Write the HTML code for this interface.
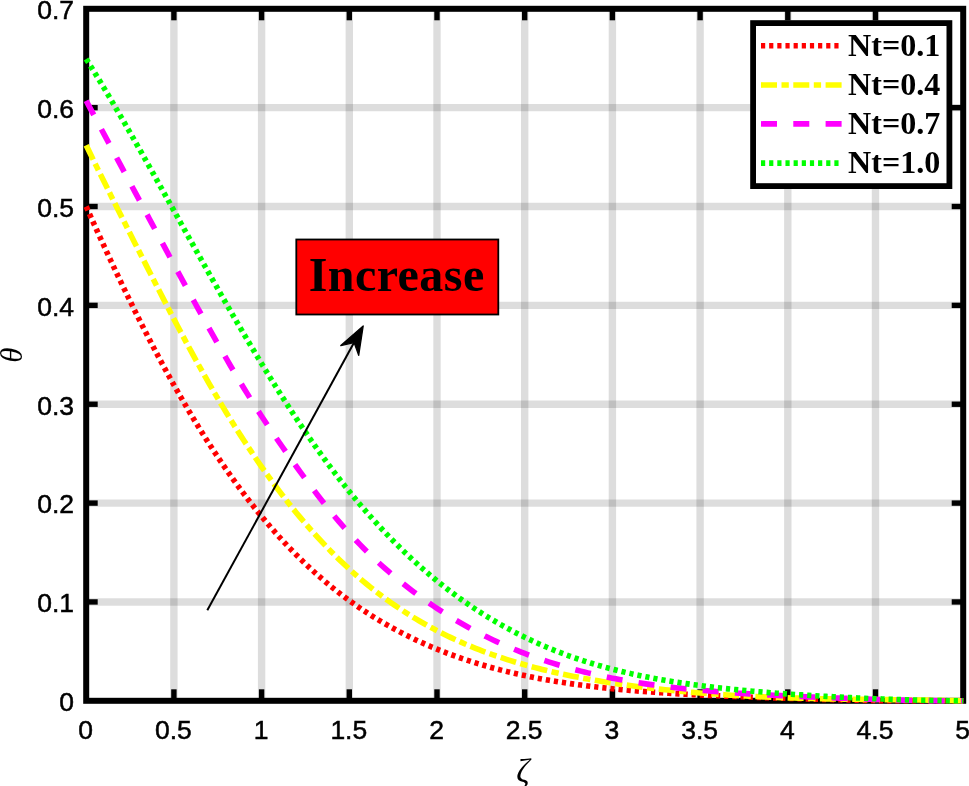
<!DOCTYPE html>
<html><head><meta charset="utf-8"><title>Nt plot</title>
<style>html,body{margin:0;padding:0;background:#fff;overflow:hidden}svg{display:block}
.tk{font-family:"Liberation Sans",sans-serif;font-size:26.5px;fill:#000;stroke:#000;stroke-width:0.5px}
.lg{font-family:"Liberation Serif",serif;font-weight:bold;font-size:32.1px;fill:#000}
.ax{font-family:"Liberation Serif",serif;font-style:italic;font-size:31px;fill:#000}
</style></head><body>
<svg width="969" height="786" viewBox="0 0 969 786">
<rect width="969" height="786" fill="#fff"/>
<g stroke="#000" stroke-opacity="0.135" stroke-width="7.4">
<line x1="173.90" y1="8.80" x2="173.90" y2="700.80"/>
<line x1="261.60" y1="8.80" x2="261.60" y2="700.80"/>
<line x1="349.30" y1="8.80" x2="349.30" y2="700.80"/>
<line x1="437.00" y1="8.80" x2="437.00" y2="700.80"/>
<line x1="524.70" y1="8.80" x2="524.70" y2="700.80"/>
<line x1="612.40" y1="8.80" x2="612.40" y2="700.80"/>
<line x1="700.10" y1="8.80" x2="700.10" y2="700.80"/>
<line x1="787.80" y1="8.80" x2="787.80" y2="700.80"/>
<line x1="875.50" y1="8.80" x2="875.50" y2="700.80"/>
<line x1="86.20" y1="601.94" x2="963.20" y2="601.94"/>
<line x1="86.20" y1="503.09" x2="963.20" y2="503.09"/>
<line x1="86.20" y1="404.23" x2="963.20" y2="404.23"/>
<line x1="86.20" y1="305.37" x2="963.20" y2="305.37"/>
<line x1="86.20" y1="206.51" x2="963.20" y2="206.51"/>
<line x1="86.20" y1="107.66" x2="963.20" y2="107.66"/>
</g>
<g stroke="#000" stroke-width="5.4">
<line x1="173.90" y1="700.80" x2="173.90" y2="689.30"/>
<line x1="173.90" y1="8.80" x2="173.90" y2="20.30"/>
<line x1="261.60" y1="700.80" x2="261.60" y2="689.30"/>
<line x1="261.60" y1="8.80" x2="261.60" y2="20.30"/>
<line x1="349.30" y1="700.80" x2="349.30" y2="689.30"/>
<line x1="349.30" y1="8.80" x2="349.30" y2="20.30"/>
<line x1="437.00" y1="700.80" x2="437.00" y2="689.30"/>
<line x1="437.00" y1="8.80" x2="437.00" y2="20.30"/>
<line x1="524.70" y1="700.80" x2="524.70" y2="689.30"/>
<line x1="524.70" y1="8.80" x2="524.70" y2="20.30"/>
<line x1="612.40" y1="700.80" x2="612.40" y2="689.30"/>
<line x1="612.40" y1="8.80" x2="612.40" y2="20.30"/>
<line x1="700.10" y1="700.80" x2="700.10" y2="689.30"/>
<line x1="700.10" y1="8.80" x2="700.10" y2="20.30"/>
<line x1="787.80" y1="700.80" x2="787.80" y2="689.30"/>
<line x1="787.80" y1="8.80" x2="787.80" y2="20.30"/>
<line x1="875.50" y1="700.80" x2="875.50" y2="689.30"/>
<line x1="875.50" y1="8.80" x2="875.50" y2="20.30"/>
<line x1="86.20" y1="601.94" x2="97.70" y2="601.94"/>
<line x1="963.20" y1="601.94" x2="951.70" y2="601.94"/>
<line x1="86.20" y1="503.09" x2="97.70" y2="503.09"/>
<line x1="963.20" y1="503.09" x2="951.70" y2="503.09"/>
<line x1="86.20" y1="404.23" x2="97.70" y2="404.23"/>
<line x1="963.20" y1="404.23" x2="951.70" y2="404.23"/>
<line x1="86.20" y1="305.37" x2="97.70" y2="305.37"/>
<line x1="963.20" y1="305.37" x2="951.70" y2="305.37"/>
<line x1="86.20" y1="206.51" x2="97.70" y2="206.51"/>
<line x1="963.20" y1="206.51" x2="951.70" y2="206.51"/>
<line x1="86.20" y1="107.66" x2="97.70" y2="107.66"/>
<line x1="963.20" y1="107.66" x2="951.70" y2="107.66"/>
</g>
<rect x="86.20" y="8.80" width="877.00" height="692.00" fill="none" stroke="#000" stroke-width="6.0"/>
<path d="M86.20,206.51 L89.71,214.40 L93.22,222.24 L96.72,230.02 L100.23,237.75 L103.74,245.42 L107.25,253.03 L110.76,260.58 L114.26,268.07 L117.77,275.50 L121.28,282.86 L124.79,290.16 L128.30,297.40 L131.80,304.56 L135.31,311.66 L138.82,318.69 L142.33,325.65 L145.84,332.54 L149.34,339.36 L152.85,346.10 L156.36,352.77 L159.87,359.37 L163.38,365.89 L166.88,372.33 L170.39,378.70 L173.90,384.99 L177.41,391.21 L180.92,397.34 L184.42,403.40 L187.93,409.38 L191.44,415.28 L194.95,421.10 L198.46,426.84 L201.96,432.50 L205.47,438.08 L208.98,443.58 L212.49,449.00 L216.00,454.33 L219.50,459.59 L223.01,464.77 L226.52,469.86 L230.03,474.88 L233.54,479.81 L237.04,484.67 L240.55,489.44 L244.06,494.14 L247.57,498.75 L251.08,503.29 L254.58,507.75 L258.09,512.13 L261.60,516.43 L265.11,520.65 L268.62,524.80 L272.12,528.87 L275.63,532.87 L279.14,536.79 L282.65,540.63 L286.16,544.40 L289.66,548.10 L293.17,551.73 L296.68,555.28 L300.19,558.77 L303.70,562.18 L307.20,565.53 L310.71,568.80 L314.22,572.01 L317.73,575.15 L321.24,578.22 L324.74,581.23 L328.25,584.18 L331.76,587.06 L335.27,589.88 L338.78,592.64 L342.28,595.33 L345.79,597.97 L349.30,600.55 L352.81,603.08 L356.32,605.54 L359.82,607.96 L363.33,610.32 L366.84,612.62 L370.35,614.88 L373.86,617.08 L377.36,619.24 L380.87,621.35 L384.38,623.41 L387.89,625.42 L391.40,627.39 L394.90,629.31 L398.41,631.19 L401.92,633.02 L405.43,634.81 L408.94,636.56 L412.44,638.28 L415.95,639.95 L419.46,641.58 L422.97,643.17 L426.48,644.73 L429.98,646.25 L433.49,647.73 L437.00,649.18 L440.51,650.59 L444.02,651.97 L447.52,653.31 L451.03,654.63 L454.54,655.90 L458.05,657.15 L461.56,658.37 L465.06,659.55 L468.57,660.71 L472.08,661.84 L475.59,662.93 L479.10,664.00 L482.60,665.04 L486.11,666.06 L489.62,667.05 L493.13,668.01 L496.64,668.94 L500.14,669.86 L503.65,670.74 L507.16,671.61 L510.67,672.45 L514.18,673.26 L517.68,674.06 L521.19,674.83 L524.70,675.58 L528.21,676.31 L531.72,677.02 L535.22,677.71 L538.73,678.38 L542.24,679.03 L545.75,679.66 L549.26,680.28 L552.76,680.88 L556.27,681.45 L559.78,682.02 L563.29,682.56 L566.80,683.09 L570.30,683.61 L573.81,684.11 L577.32,684.59 L580.83,685.07 L584.34,685.52 L587.84,685.97 L591.35,686.40 L594.86,686.81 L598.37,687.22 L601.88,687.61 L605.38,687.99 L608.89,688.36 L612.40,688.72 L615.91,689.07 L619.42,689.41 L622.92,689.73 L626.43,690.05 L629.94,690.36 L633.45,690.66 L636.96,690.95 L640.46,691.23 L643.97,691.51 L647.48,691.77 L650.99,692.03 L654.50,692.28 L658.00,692.53 L661.51,692.76 L665.02,692.99 L668.53,693.22 L672.04,693.43 L675.54,693.65 L679.05,693.85 L682.56,694.05 L686.07,694.25 L689.58,694.44 L693.08,694.62 L696.59,694.80 L700.10,694.98 L703.61,695.15 L707.12,695.32 L710.62,695.48 L714.13,695.64 L717.64,695.80 L721.15,695.95 L724.66,696.10 L728.16,696.25 L731.67,696.39 L735.18,696.54 L738.69,696.67 L742.20,696.81 L745.70,696.94 L749.21,697.07 L752.72,697.20 L756.23,697.33 L759.74,697.45 L763.24,697.57 L766.75,697.69 L770.26,697.81 L773.77,697.92 L777.28,698.04 L780.78,698.15 L784.29,698.26 L787.80,698.37 L791.31,698.48 L794.82,698.58 L798.32,698.69 L801.83,698.79 L805.34,698.89 L808.85,698.99 L812.36,699.09 L815.86,699.19 L819.37,699.28 L822.88,699.37 L826.39,699.47 L829.90,699.56 L833.40,699.64 L836.91,699.73 L840.42,699.81 L843.93,699.90 L847.44,699.98 L850.94,700.06 L854.45,700.13 L857.96,700.21 L861.47,700.28 L864.98,700.35 L868.48,700.42 L871.99,700.48 L875.50,700.55 L879.01,700.61 L882.52,700.66 L886.02,700.72 L889.53,700.77 L893.04,700.80 L896.55,700.80 L900.06,700.80 L903.56,700.80 L907.07,700.80 L910.58,700.80 L914.09,700.80 L917.60,700.80 L921.10,700.80 L924.61,700.80 L928.12,700.80 L931.63,700.80 L935.14,700.80 L938.64,700.80 L942.15,700.80 L945.66,700.80 L949.17,700.80 L952.68,700.80 L956.18,700.80 L959.69,700.80 L963.20,700.80" fill="none" stroke="#ff0000" stroke-width="5.6" stroke-dasharray="4.2 3.95"/>
<path d="M86.20,145.22 L89.71,152.49 L93.22,159.69 L96.72,166.86 L100.23,173.98 L103.74,181.06 L107.25,188.12 L110.76,195.15 L114.26,202.16 L117.77,209.15 L121.28,216.12 L124.79,223.08 L128.30,230.03 L131.80,236.97 L135.31,243.90 L138.82,250.81 L142.33,257.72 L145.84,264.61 L149.34,271.50 L152.85,278.36 L156.36,285.21 L159.87,292.04 L163.38,298.85 L166.88,305.63 L170.39,312.37 L173.90,319.08 L177.41,325.75 L180.92,332.37 L184.42,338.94 L187.93,345.46 L191.44,351.93 L194.95,358.33 L198.46,364.67 L201.96,370.95 L205.47,377.16 L208.98,383.31 L212.49,389.38 L216.00,395.38 L219.50,401.32 L223.01,407.18 L226.52,412.96 L230.03,418.68 L233.54,424.32 L237.04,429.89 L240.55,435.38 L244.06,440.80 L247.57,446.15 L251.08,451.42 L254.58,456.61 L258.09,461.74 L261.60,466.78 L265.11,471.75 L268.62,476.65 L272.12,481.47 L275.63,486.22 L279.14,490.90 L282.65,495.49 L286.16,500.02 L289.66,504.47 L293.17,508.84 L296.68,513.15 L300.19,517.37 L303.70,521.53 L307.20,525.61 L310.71,529.62 L314.22,533.56 L317.73,537.42 L321.24,541.22 L324.74,544.94 L328.25,548.59 L331.76,552.17 L335.27,555.68 L338.78,559.13 L342.28,562.50 L345.79,565.81 L349.30,569.05 L352.81,572.22 L356.32,575.33 L359.82,578.37 L363.33,581.35 L366.84,584.26 L370.35,587.12 L373.86,589.91 L377.36,592.64 L380.87,595.31 L384.38,597.92 L387.89,600.47 L391.40,602.97 L394.90,605.41 L398.41,607.79 L401.92,610.12 L405.43,612.40 L408.94,614.63 L412.44,616.80 L415.95,618.93 L419.46,621.00 L422.97,623.03 L426.48,625.01 L429.98,626.95 L433.49,628.84 L437.00,630.68 L440.51,632.48 L444.02,634.24 L447.52,635.96 L451.03,637.64 L454.54,639.27 L458.05,640.87 L461.56,642.43 L465.06,643.95 L468.57,645.43 L472.08,646.88 L475.59,648.29 L479.10,649.67 L482.60,651.02 L486.11,652.33 L489.62,653.61 L493.13,654.86 L496.64,656.08 L500.14,657.26 L503.65,658.42 L507.16,659.55 L510.67,660.66 L514.18,661.73 L517.68,662.78 L521.19,663.80 L524.70,664.80 L528.21,665.77 L531.72,666.72 L535.22,667.64 L538.73,668.54 L542.24,669.42 L545.75,670.28 L549.26,671.11 L552.76,671.93 L556.27,672.72 L559.78,673.50 L563.29,674.25 L566.80,674.99 L570.30,675.71 L573.81,676.41 L577.32,677.09 L580.83,677.76 L584.34,678.41 L587.84,679.05 L591.35,679.67 L594.86,680.27 L598.37,680.86 L601.88,681.44 L605.38,682.00 L608.89,682.55 L612.40,683.08 L615.91,683.60 L619.42,684.11 L622.92,684.61 L626.43,685.09 L629.94,685.57 L633.45,686.03 L636.96,686.48 L640.46,686.92 L643.97,687.35 L647.48,687.77 L650.99,688.18 L654.50,688.58 L658.00,688.97 L661.51,689.35 L665.02,689.72 L668.53,690.09 L672.04,690.44 L675.54,690.78 L679.05,691.12 L682.56,691.45 L686.07,691.77 L689.58,692.08 L693.08,692.38 L696.59,692.68 L700.10,692.97 L703.61,693.25 L707.12,693.52 L710.62,693.78 L714.13,694.04 L717.64,694.29 L721.15,694.53 L724.66,694.77 L728.16,694.99 L731.67,695.21 L735.18,695.43 L738.69,695.63 L742.20,695.83 L745.70,696.02 L749.21,696.21 L752.72,696.39 L756.23,696.56 L759.74,696.72 L763.24,696.88 L766.75,697.04 L770.26,697.18 L773.77,697.33 L777.28,697.46 L780.78,697.59 L784.29,697.72 L787.80,697.83 L791.31,697.95 L794.82,698.06 L798.32,698.16 L801.83,698.26 L805.34,698.35 L808.85,698.44 L812.36,698.53 L815.86,698.61 L819.37,698.69 L822.88,698.76 L826.39,698.83 L829.90,698.89 L833.40,698.96 L836.91,699.02 L840.42,699.07 L843.93,699.13 L847.44,699.18 L850.94,699.23 L854.45,699.27 L857.96,699.32 L861.47,699.36 L864.98,699.40 L868.48,699.44 L871.99,699.48 L875.50,699.51 L879.01,699.55 L882.52,699.59 L886.02,699.62 L889.53,699.66 L893.04,699.69 L896.55,699.73 L900.06,699.76 L903.56,699.80 L907.07,699.84 L910.58,699.88 L914.09,699.92 L917.60,699.96 L921.10,700.01 L924.61,700.05 L928.12,700.10 L931.63,700.16 L935.14,700.21 L938.64,700.27 L942.15,700.33 L945.66,700.40 L949.17,700.47 L952.68,700.55 L956.18,700.63 L959.69,700.71 L963.20,700.80" fill="none" stroke="#ffff00" stroke-width="5.6" stroke-dasharray="16 4.5 7.3 4.5"/>
<path d="M86.20,100.74 L89.71,107.31 L93.22,113.88 L96.72,120.45 L100.23,127.01 L103.74,133.58 L107.25,140.14 L110.76,146.70 L114.26,153.26 L117.77,159.82 L121.28,166.38 L124.79,172.94 L128.30,179.49 L131.80,186.05 L135.31,192.61 L138.82,199.16 L142.33,205.71 L145.84,212.26 L149.34,218.81 L152.85,225.35 L156.36,231.88 L159.87,238.41 L163.38,244.93 L166.88,251.44 L170.39,257.94 L173.90,264.43 L177.41,270.90 L180.92,277.36 L184.42,283.80 L187.93,290.22 L191.44,296.63 L194.95,303.00 L198.46,309.36 L201.96,315.68 L205.47,321.98 L208.98,328.24 L212.49,334.46 L216.00,340.65 L219.50,346.80 L223.01,352.90 L226.52,358.96 L230.03,364.97 L233.54,370.92 L237.04,376.82 L240.55,382.66 L244.06,388.43 L247.57,394.13 L251.08,399.77 L254.58,405.33 L258.09,410.81 L261.60,416.21 L265.11,421.54 L268.62,426.80 L272.12,432.00 L275.63,437.14 L279.14,442.23 L282.65,447.27 L286.16,452.26 L289.66,457.21 L293.17,462.12 L296.68,466.99 L300.19,471.81 L303.70,476.59 L307.20,481.33 L310.71,486.02 L314.22,490.66 L317.73,495.24 L321.24,499.77 L324.74,504.23 L328.25,508.62 L331.76,512.94 L335.27,517.17 L338.78,521.32 L342.28,525.38 L345.79,529.35 L349.30,533.24 L352.81,537.04 L356.32,540.76 L359.82,544.41 L363.33,547.97 L366.84,551.46 L370.35,554.88 L373.86,558.22 L377.36,561.50 L380.87,564.71 L384.38,567.86 L387.89,570.95 L391.40,573.97 L394.90,576.94 L398.41,579.84 L401.92,582.70 L405.43,585.49 L408.94,588.23 L412.44,590.92 L415.95,593.56 L419.46,596.15 L422.97,598.69 L426.48,601.18 L429.98,603.62 L433.49,606.01 L437.00,608.36 L440.51,610.66 L444.02,612.92 L447.52,615.12 L451.03,617.29 L454.54,619.41 L458.05,621.49 L461.56,623.52 L465.06,625.51 L468.57,627.46 L472.08,629.37 L475.59,631.24 L479.10,633.07 L482.60,634.86 L486.11,636.61 L489.62,638.32 L493.13,639.99 L496.64,641.63 L500.14,643.23 L503.65,644.79 L507.16,646.32 L510.67,647.82 L514.18,649.27 L517.68,650.70 L521.19,652.09 L524.70,653.45 L528.21,654.77 L531.72,656.07 L535.22,657.33 L538.73,658.56 L542.24,659.76 L545.75,660.93 L549.26,662.08 L552.76,663.19 L556.27,664.27 L559.78,665.33 L563.29,666.36 L566.80,667.36 L570.30,668.34 L573.81,669.29 L577.32,670.22 L580.83,671.12 L584.34,671.99 L587.84,672.85 L591.35,673.67 L594.86,674.48 L598.37,675.26 L601.88,676.02 L605.38,676.76 L608.89,677.48 L612.40,678.18 L615.91,678.86 L619.42,679.52 L622.92,680.15 L626.43,680.77 L629.94,681.38 L633.45,681.96 L636.96,682.52 L640.46,683.07 L643.97,683.61 L647.48,684.12 L650.99,684.62 L654.50,685.11 L658.00,685.58 L661.51,686.03 L665.02,686.47 L668.53,686.90 L672.04,687.31 L675.54,687.71 L679.05,688.10 L682.56,688.48 L686.07,688.84 L689.58,689.20 L693.08,689.54 L696.59,689.87 L700.10,690.20 L703.61,690.51 L707.12,690.81 L710.62,691.10 L714.13,691.39 L717.64,691.67 L721.15,691.94 L724.66,692.20 L728.16,692.45 L731.67,692.70 L735.18,692.94 L738.69,693.17 L742.20,693.40 L745.70,693.62 L749.21,693.84 L752.72,694.05 L756.23,694.26 L759.74,694.46 L763.24,694.66 L766.75,694.85 L770.26,695.04 L773.77,695.22 L777.28,695.40 L780.78,695.58 L784.29,695.75 L787.80,695.92 L791.31,696.09 L794.82,696.25 L798.32,696.41 L801.83,696.57 L805.34,696.73 L808.85,696.88 L812.36,697.03 L815.86,697.18 L819.37,697.32 L822.88,697.47 L826.39,697.61 L829.90,697.75 L833.40,697.88 L836.91,698.02 L840.42,698.15 L843.93,698.28 L847.44,698.41 L850.94,698.53 L854.45,698.66 L857.96,698.78 L861.47,698.90 L864.98,699.02 L868.48,699.13 L871.99,699.24 L875.50,699.35 L879.01,699.46 L882.52,699.56 L886.02,699.66 L889.53,699.76 L893.04,699.86 L896.55,699.95 L900.06,700.04 L903.56,700.12 L907.07,700.20 L910.58,700.28 L914.09,700.35 L917.60,700.42 L921.10,700.48 L924.61,700.54 L928.12,700.59 L931.63,700.64 L935.14,700.69 L938.64,700.72 L942.15,700.76 L945.66,700.78 L949.17,700.80 L952.68,700.80 L956.18,700.80 L959.69,700.80 L963.20,700.80" fill="none" stroke="#ff00ff" stroke-width="5.6" stroke-dasharray="16 16.3"/>
<path d="M86.20,59.02 L89.71,64.62 L93.22,70.28 L96.72,76.00 L100.23,81.77 L103.74,87.59 L107.25,93.46 L110.76,99.37 L114.26,105.33 L117.77,111.33 L121.28,117.36 L124.79,123.43 L128.30,129.53 L131.80,135.66 L135.31,141.82 L138.82,148.01 L142.33,154.21 L145.84,160.43 L149.34,166.68 L152.85,172.93 L156.36,179.20 L159.87,185.48 L163.38,191.77 L166.88,198.06 L170.39,204.36 L173.90,210.66 L177.41,216.96 L180.92,223.26 L184.42,229.56 L187.93,235.85 L191.44,242.13 L194.95,248.40 L198.46,254.66 L201.96,260.91 L205.47,267.14 L208.98,273.36 L212.49,279.56 L216.00,285.74 L219.50,291.90 L223.01,298.03 L226.52,304.15 L230.03,310.23 L233.54,316.29 L237.04,322.32 L240.55,328.33 L244.06,334.30 L247.57,340.24 L251.08,346.14 L254.58,352.01 L258.09,357.84 L261.60,363.63 L265.11,369.39 L268.62,375.10 L272.12,380.77 L275.63,386.39 L279.14,391.96 L282.65,397.49 L286.16,402.97 L289.66,408.39 L293.17,413.77 L296.68,419.08 L300.19,424.34 L303.70,429.55 L307.20,434.69 L310.71,439.77 L314.22,444.80 L317.73,449.76 L321.24,454.65 L324.74,459.49 L328.25,464.26 L331.76,468.96 L335.27,473.60 L338.78,478.17 L342.28,482.68 L345.79,487.12 L349.30,491.50 L352.81,495.81 L356.32,500.06 L359.82,504.24 L363.33,508.35 L366.84,512.41 L370.35,516.40 L373.86,520.32 L377.36,524.19 L380.87,527.99 L384.38,531.73 L387.89,535.42 L391.40,539.04 L394.90,542.60 L398.41,546.10 L401.92,549.54 L405.43,552.93 L408.94,556.26 L412.44,559.53 L415.95,562.74 L419.46,565.90 L422.97,569.00 L426.48,572.05 L429.98,575.04 L433.49,577.98 L437.00,580.87 L440.51,583.70 L444.02,586.48 L447.52,589.21 L451.03,591.89 L454.54,594.52 L458.05,597.09 L461.56,599.62 L465.06,602.10 L468.57,604.53 L472.08,606.91 L475.59,609.24 L479.10,611.53 L482.60,613.77 L486.11,615.96 L489.62,618.11 L493.13,620.21 L496.64,622.27 L500.14,624.29 L503.65,626.26 L507.16,628.19 L510.67,630.08 L514.18,631.93 L517.68,633.74 L521.19,635.50 L524.70,637.23 L528.21,638.92 L531.72,640.57 L535.22,642.18 L538.73,643.75 L542.24,645.29 L545.75,646.79 L549.26,648.25 L552.76,649.68 L556.27,651.07 L559.78,652.43 L563.29,653.76 L566.80,655.06 L570.30,656.32 L573.81,657.55 L577.32,658.75 L580.83,659.91 L584.34,661.05 L587.84,662.16 L591.35,663.24 L594.86,664.29 L598.37,665.32 L601.88,666.32 L605.38,667.29 L608.89,668.23 L612.40,669.15 L615.91,670.05 L619.42,670.92 L622.92,671.77 L626.43,672.59 L629.94,673.39 L633.45,674.17 L636.96,674.93 L640.46,675.67 L643.97,676.39 L647.48,677.09 L650.99,677.77 L654.50,678.43 L658.00,679.08 L661.51,679.70 L665.02,680.31 L668.53,680.90 L672.04,681.48 L675.54,682.04 L679.05,682.59 L682.56,683.12 L686.07,683.63 L689.58,684.13 L693.08,684.62 L696.59,685.10 L700.10,685.56 L703.61,686.01 L707.12,686.45 L710.62,686.88 L714.13,687.29 L717.64,687.70 L721.15,688.09 L724.66,688.47 L728.16,688.85 L731.67,689.21 L735.18,689.57 L738.69,689.91 L742.20,690.25 L745.70,690.58 L749.21,690.90 L752.72,691.22 L756.23,691.52 L759.74,691.82 L763.24,692.11 L766.75,692.40 L770.26,692.67 L773.77,692.95 L777.28,693.21 L780.78,693.47 L784.29,693.72 L787.80,693.97 L791.31,694.22 L794.82,694.45 L798.32,694.68 L801.83,694.91 L805.34,695.14 L808.85,695.35 L812.36,695.57 L815.86,695.78 L819.37,695.98 L822.88,696.18 L826.39,696.38 L829.90,696.57 L833.40,696.76 L836.91,696.94 L840.42,697.12 L843.93,697.30 L847.44,697.47 L850.94,697.64 L854.45,697.81 L857.96,697.97 L861.47,698.13 L864.98,698.28 L868.48,698.43 L871.99,698.58 L875.50,698.72 L879.01,698.86 L882.52,699.00 L886.02,699.13 L889.53,699.25 L893.04,699.38 L896.55,699.50 L900.06,699.61 L903.56,699.72 L907.07,699.83 L910.58,699.93 L914.09,700.03 L917.60,700.12 L921.10,700.21 L924.61,700.29 L928.12,700.36 L931.63,700.44 L935.14,700.50 L938.64,700.56 L942.15,700.61 L945.66,700.66 L949.17,700.70 L952.68,700.74 L956.18,700.77 L959.69,700.79 L963.20,700.80" fill="none" stroke="#00ff00" stroke-width="5.6" stroke-dasharray="4.2 3.95"/>
<line x1="207.30" y1="610.30" x2="354.07" y2="342.56" stroke="#000" stroke-width="2.0"/>
<polygon points="363.20,325.90 358.69,355.36 354.07,342.56 340.80,345.55" fill="#000" stroke="#000" stroke-width="1.3" stroke-linejoin="round"/>
<rect x="296.3" y="239.5" width="202" height="75" fill="#ff0000" stroke="#000" stroke-width="1.8"/>
<text x="396.7" y="291.3" text-anchor="middle" font-family="Liberation Serif, serif" font-weight="bold" font-size="48px" letter-spacing="0.45" fill="#000">Increase</text>
<rect x="753.1" y="23.1" width="196.3" height="163" fill="#fff" stroke="#000" stroke-width="5.8"/>
<line x1="761" y1="45.8" x2="842.2" y2="45.8" stroke="#ff0000" stroke-width="5.6" stroke-dasharray="4.2 3.95"/>
<text class="lg" x="848.1" y="56.1">Nt=0.1</text>
<line x1="761" y1="85.0" x2="842.2" y2="85.0" stroke="#ffff00" stroke-width="5.6" stroke-dasharray="16 4.5 7.3 4.5"/>
<text class="lg" x="848.1" y="95.3">Nt=0.4</text>
<line x1="761" y1="123.9" x2="842.2" y2="123.9" stroke="#ff00ff" stroke-width="5.6" stroke-dasharray="16 16.3"/>
<text class="lg" x="848.1" y="134.2">Nt=0.7</text>
<line x1="761" y1="163.1" x2="842.2" y2="163.1" stroke="#00ff00" stroke-width="5.6" stroke-dasharray="4.2 3.95"/>
<text class="lg" x="848.1" y="173.4">Nt=1.0</text>
<text class="tk" x="85.70" y="739.3" text-anchor="middle">0</text>
<text class="tk" x="173.40" y="739.3" text-anchor="middle">0.5</text>
<text class="tk" x="261.10" y="739.3" text-anchor="middle">1</text>
<text class="tk" x="348.80" y="739.3" text-anchor="middle">1.5</text>
<text class="tk" x="436.50" y="739.3" text-anchor="middle">2</text>
<text class="tk" x="524.20" y="739.3" text-anchor="middle">2.5</text>
<text class="tk" x="611.90" y="739.3" text-anchor="middle">3</text>
<text class="tk" x="699.60" y="739.3" text-anchor="middle">3.5</text>
<text class="tk" x="787.30" y="739.3" text-anchor="middle">4</text>
<text class="tk" x="875.00" y="739.3" text-anchor="middle">4.5</text>
<text class="tk" x="962.70" y="739.3" text-anchor="middle">5</text>
<text class="tk" x="74" y="711.10" text-anchor="end">0</text>
<text class="tk" x="74" y="612.24" text-anchor="end">0.1</text>
<text class="tk" x="74" y="513.39" text-anchor="end">0.2</text>
<text class="tk" x="74" y="414.53" text-anchor="end">0.3</text>
<text class="tk" x="74" y="315.67" text-anchor="end">0.4</text>
<text class="tk" x="74" y="216.81" text-anchor="end">0.5</text>
<text class="tk" x="74" y="117.96" text-anchor="end">0.6</text>
<text class="tk" x="74" y="19.10" text-anchor="end">0.7</text>
<text class="ax" x="523.0" y="782" style="font-size:33px" text-anchor="middle">ζ</text>
<text class="ax" transform="translate(21.8,355.2) rotate(-90)" text-anchor="middle">θ</text>
</svg>
</body></html>
